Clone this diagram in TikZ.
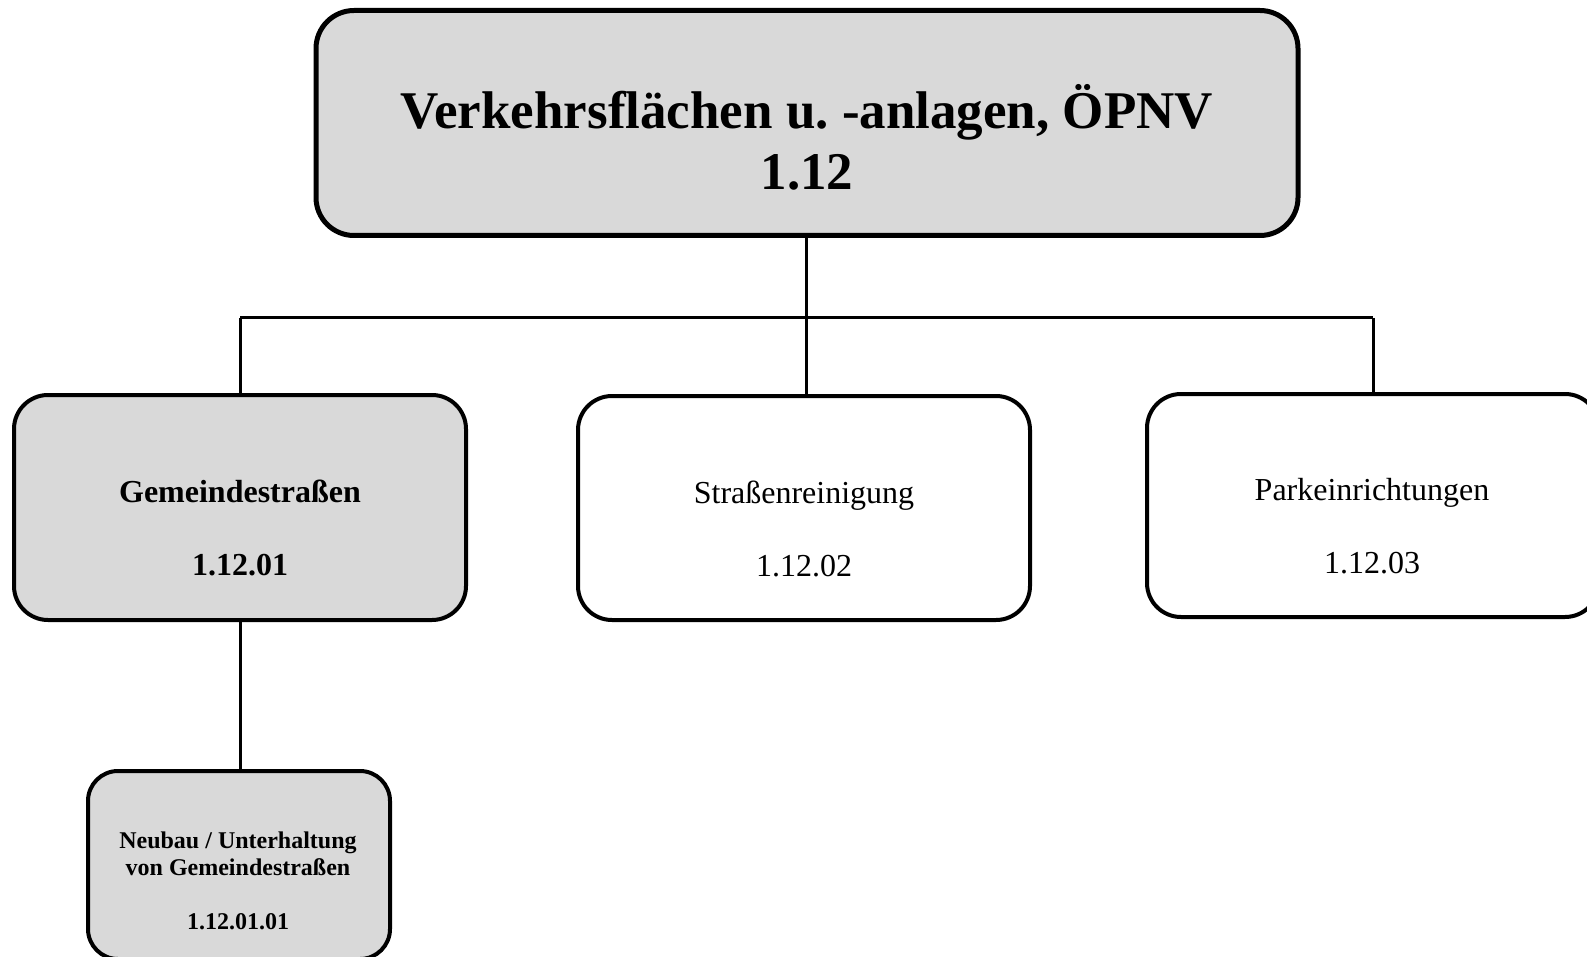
\documentclass[tikz,border=0pt]{standalone}
\usepackage{fontspec}
\setmainfont{Liberation Serif}
\frenchspacing
\definecolor{boxgray}{HTML}{D9D9D9}
\tikzset{
  box/.style={draw=black, rounded corners=34pt, line width=4pt, inner sep=0pt},
  grayfill/.style={fill=boxgray},
  whitefill/.style={fill=white},
  conn/.style={draw=black, line width=3pt},
  lbl/.style={anchor=base, inner sep=0pt, outer sep=0pt},
  topfont/.style={font=\fontsize{53}{60}\selectfont\bfseries},
  midbold/.style={font=\fontsize{32}{38}\selectfont\bfseries},
  midreg/.style={font=\fontsize{32}{38}\selectfont},
  smallbold/.style={font=\fontsize{24}{28}\selectfont\bfseries},
}
\begin{document}
\begin{tikzpicture}[x=1pt,y=-1pt]
\useasboundingbox (0,0) rectangle (1587,957);
\clip (0,0) rectangle (1587,957);

% boxes
\node[box, grayfill, line width=5pt, rounded corners=38pt, minimum width=982pt, minimum height=225pt] (top) at (807,123) {};
\node[box, grayfill, minimum width=452pt, minimum height=225pt] (gem) at (240,507.5) {};
\node[box, whitefill, minimum width=452pt, minimum height=224pt] (str) at (804,508) {};
\node[box, whitefill, minimum width=452pt, minimum height=223pt] (park) at (1373,505.5) {};
\node[box, grayfill, rounded corners=30pt, minimum width=302pt, minimum height=188pt] (neu) at (239,865) {};

% texts
\node[lbl, topfont] (t1) at (807,129) {Verkehrsflächen u. -anlagen, ÖPNV};
\node[lbl, topfont] (t2) at (807,190) {1.12};
\node[lbl, midbold] (g1) at (240,502) {Gemeindestraßen};
\node[lbl, midbold] (g2) at (240,575) {1.12.01};
\node[lbl, midreg] (s1) at (804,503) {Straßenreinigung};
\node[lbl, midreg] (s2) at (804,576) {1.12.02};
\node[lbl, midreg] (p1) at (1372,500) {Parkeinrichtungen};
\node[lbl, midreg] (p2) at (1372,573) {1.12.03};
\node[lbl, smallbold] (n1) at (238,848) {Neubau / Unterhaltung};
\node[lbl, smallbold] (n2) at (238,875) {von Gemeindestraßen};
\node[lbl, smallbold] (n3) at (238,929) {1.12.01.01};

% connectors
\coordinate (hl) at (240,318);
\coordinate (hr) at (1373,318);
\coordinate (hm) at (806,318);
\draw[conn] (hl) -- (hr);
\draw[conn] (top.south -| hm) -- (hm) -- (str.north -| hm);
\draw[conn] (hl) -- (gem.north);
\draw[conn] (hr) -- (park.north);
\draw[conn] (gem.south) -- (neu.north -| gem.south);
\end{tikzpicture}
\end{document}
